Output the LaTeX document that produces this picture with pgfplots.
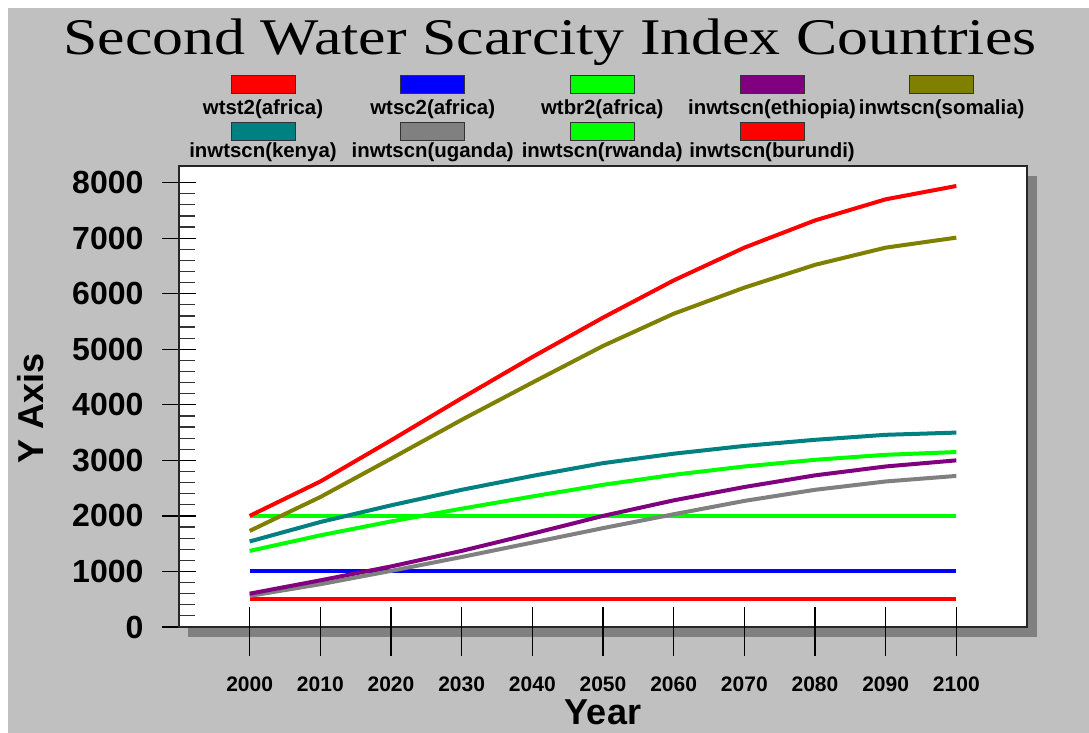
\documentclass[border=0pt]{standalone}
\usepackage{fontspec}
\setmainfont{Liberation Sans}
\newfontfamily\titlefont{Liberation Serif}
\usepackage{graphicx}
\usepackage{pgfplots}
\usepackage{pgfplotstable}
\pgfplotsset{compat=1.18}

\definecolor{bg}{HTML}{C0C0C0}
\definecolor{shadow}{HTML}{808080}
\definecolor{cred}{HTML}{FF0000}
\definecolor{cblue}{HTML}{0000FF}
\definecolor{cgreen}{HTML}{00FF00}
\definecolor{cpurple}{HTML}{800080}
\definecolor{colive}{HTML}{808000}
\definecolor{cteal}{HTML}{008080}
\definecolor{cgray}{HTML}{808080}

% values
\pgfplotstableread{
year wtst2 wtsc2 wtbr2 ethiopia somalia kenya uganda rwanda burundi
2000 2000 1000 2000  600 1730 1540  560 1370 500
2010 2620 1000 2000  840 2340 1890  770 1650 500
2020 3360 1000 2000 1090 3030 2190 1010 1900 500
2030 4120 1000 2000 1370 3730 2470 1260 2130 500
2040 4860 1000 2000 1680 4400 2720 1520 2350 500
2050 5570 1000 2000 2000 5060 2950 1780 2560 500
2060 6240 1000 2000 2280 5640 3120 2030 2740 500
2070 6830 1000 2000 2520 6110 3260 2270 2890 500
2080 7320 1000 2000 2730 6520 3370 2470 3010 500
2090 7700 1000 2000 2890 6830 3460 2620 3100 500
2100 7940 1000 2000 3000 7010 3500 2720 3150 500
}\datatable

% legend entry: x centre, rect top, label baseline, colour, text
\newcommand{\legentry}[5]{%
  \draw[black!80, line width=0.4pt, fill=#4] (#1-32,#2) rectangle (#1+32,#2+18);
  \node[anchor=base, inner sep=0pt, font=\bfseries\fontsize{10.2}{12}\selectfont] at (#1,#3) {#5};}

\pgfplotsset{
  frame/.style={
    scale only axis, width=424pt, height=230.5pt,
    at={(89.5pt,53pt)}, anchor=south west,
    xmin=1990, xmax=2110, ymin=0, ymax=8300,
    tick align=center,
    /pgf/number format/assume math mode=true,
    /pgf/number format/set thousands separator={},
  }
}

\begin{document}
\begin{tikzpicture}
\useasboundingbox (0,0) rectangle (544.5pt,366.5pt);
\clip (0,0) rectangle (544.5pt,366.5pt);
\fill[white] (0,0) rectangle (544.5pt,366.5pt);
\fill[bg] (4pt,0) rectangle (544.5pt,362.5pt);

\begin{scope}[x=0.5pt,y=-0.5pt,yshift=366.5pt]
  \fill[shadow] (188,176) rectangle (1037,637);
  \node[anchor=base, inner sep=0pt] at (550,55)
    {\scalebox{1.202}[1]{\titlefont\fontsize{25.7}{30}\selectfont Second Water Scarcity Index Countries}};
  \legentry{263}{75}{115}{cred}{wtst2(africa)}
  \legentry{432.7}{75}{115}{cblue}{wtsc2(africa)}
  \legentry{602.3}{75}{115}{cgreen}{wtbr2(africa)}
  \legentry{772}{75}{115}{cpurple}{inwtscn(ethiopia)}
  \legentry{941.7}{75}{115}{colive}{inwtscn(somalia)}
  \legentry{263}{122}{158}{cteal}{inwtscn(kenya)}
  \legentry{432.7}{122}{158}{cgray}{inwtscn(uganda)}
  \legentry{602.3}{122}{158}{cgreen}{inwtscn(rwanda)}
  \legentry{772}{122}{158}{cred}{inwtscn(burundi)}
\end{scope}

% main axis: plot area, y ticks, curves
\begin{axis}[
  frame,
  axis background/.style={fill=white},
  axis line style={black!85, line width=0.8pt},
  xtick=\empty, ytick={0,1000,...,8000},
  minor y tick num=4, ytick pos=left,
  major tick length=16.5pt, minor tick length=8pt,
  ytick style={black, line width=0.6pt},
  minor y tick style={black!80, line width=0.6pt, xshift=4pt},
  yticklabel style={font=\bfseries\fontsize{16}{18}\selectfont, xshift=-6pt},
  ylabel={Y Axis},
  ylabel style={font=\bfseries\fontsize{18}{20}\selectfont,
    at={(axis description cs:-0.175,0.475)}, anchor=center, rotate=0},
  every axis plot/.append style={line width=2pt, no marks},
]
\addplot[cred]    table[x=year, y=burundi]  {\datatable};
\addplot[cblue]   table[x=year, y=wtsc2]    {\datatable};
\addplot[cgreen]  table[x=year, y=wtbr2]    {\datatable};
\addplot[cgray]   table[x=year, y=uganda]   {\datatable};
\addplot[cpurple] table[x=year, y=ethiopia] {\datatable};
\addplot[cgreen]  table[x=year, y=rwanda]   {\datatable};
\addplot[cteal]   table[x=year, y=kenya]    {\datatable};
\addplot[colive]  table[x=year, y=somalia]  {\datatable};
\addplot[cred]    table[x=year, y=wtst2]    {\datatable};
\end{axis}

% overlay axis: long x ticks crossing the bottom edge, x labels
\begin{axis}[
  frame,
  axis line style={draw=none},
  ytick=\empty,
  xtick={2000,2010,...,2100}, xtick pos=bottom,
  major tick length=24.5pt,
  xtick style={black, line width=0.8pt, yshift=-2.25pt},
  xticklabel style={font=\bfseries\fontsize{10.5}{12}\selectfont, yshift=-9pt},
  xlabel={Year},
  xlabel style={font=\bfseries\fontsize{18}{20}\selectfont,
    at={(axis description cs:0.5,-0.185)}, anchor=center},
]
\end{axis}
\end{tikzpicture}
\end{document}
